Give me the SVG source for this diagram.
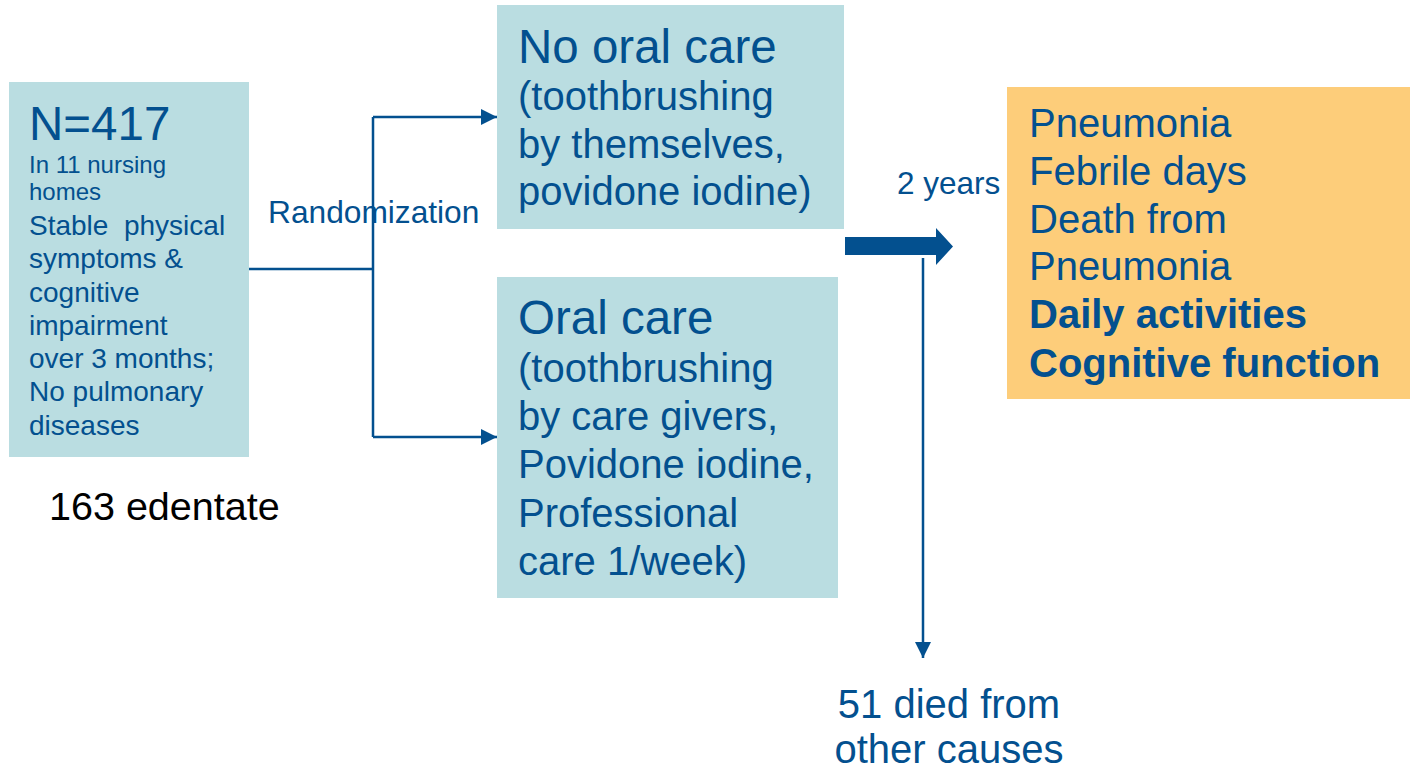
<svg xmlns="http://www.w3.org/2000/svg" width="1410" height="769" viewBox="0 0 1410 769">
<style>
.box{fill:#BADDE1}
.out{fill:#FDCD7A}
text{font-family:"Liberation Sans",Arial,sans-serif;fill:#03508F}
.b{font-weight:bold}
.conn{stroke:#03508F;stroke-width:2.5;fill:none}
</style>
<defs>
<marker id="ah2" viewBox="0 0 10 10" refX="10" refY="5" markerWidth="16" markerHeight="16" orient="auto" markerUnits="userSpaceOnUse">
<path d="M0,0 L10,5 L0,10 Z" fill="#03508F"/>
</marker>
</defs>
<rect width="1410" height="769" fill="#FFFFFF"/>
<g id="population">
<rect class="box" x="9" y="82" width="240" height="375"/>
<text x="29" y="140" font-size="47.5">N=417</text>
<text x="29" y="173" font-size="24">In 11 nursing</text>
<text x="29" y="200" font-size="24">homes</text>
<text font-size="28">
<tspan x="29" y="235" xml:space="preserve">Stable  physical</tspan>
<tspan x="29" y="268">symptoms &amp;</tspan>
<tspan x="29" y="302">cognitive</tspan>
<tspan x="29" y="335">impairment</tspan>
<tspan x="29" y="368">over 3 months;</tspan>
<tspan x="29" y="401">No pulmonary</tspan>
<tspan x="29" y="435">diseases</tspan>
</text>
</g>
<g id="edentate">
<text x="49" y="520" font-size="39.5" style="fill:#000000">163 edentate</text>
</g>
<g id="no-oral-care">
<rect class="box" x="497" y="5" width="347" height="224"/>
<text x="518" y="63" font-size="47.5">No oral care</text>
<text font-size="40">
<tspan x="518" y="110">(toothbrushing</tspan>
<tspan x="518" y="158">by themselves,</tspan>
<tspan x="518" y="205">povidone iodine)</tspan>
</text>
</g>
<g id="oral-care">
<rect class="box" x="497" y="277" width="341" height="321"/>
<text x="518" y="334" font-size="47.5">Oral care</text>
<text font-size="40">
<tspan x="518" y="382">(toothbrushing</tspan>
<tspan x="518" y="430">by care givers,</tspan>
<tspan x="518" y="478">Povidone iodine,</tspan>
<tspan x="518" y="527">Professional</tspan>
<tspan x="518" y="575">care 1/week)</tspan>
</text>
</g>
<g id="outcomes">
<rect class="out" x="1007" y="87" width="403" height="312"/>
<text font-size="40">
<tspan x="1029" y="137">Pneumonia</tspan>
<tspan x="1029" y="185">Febrile days</tspan>
<tspan x="1029" y="233">Death from</tspan>
<tspan x="1029" y="280">Pneumonia</tspan>
<tspan x="1029" y="328" class="b">Daily activities</tspan>
<tspan x="1029" y="377" class="b">Cognitive function</tspan>
</text>
</g>
<g id="died">
<text x="949" y="718" font-size="40" text-anchor="middle">51 died from</text>
<text x="949" y="763" font-size="40" text-anchor="middle">other causes</text>
</g>
<g id="connectors">
<path class="conn" d="M249,269 H373"/>
<path class="conn" d="M373,117 V437"/>
<path class="conn" d="M373,117 H497" marker-end="url(#ah2)"/>
<path class="conn" d="M373,437 H497" marker-end="url(#ah2)"/>
<path d="M845,237 H936 V228 L953,246.5 L936,265 V255 H845 Z" fill="#03508F"/>
<path class="conn" d="M923,258 V658" marker-end="url(#ah2)"/>
<text x="268" y="223" font-size="31.7">Randomization</text>
<text x="897" y="194" font-size="31.5">2 years</text>
</g>
</svg>
